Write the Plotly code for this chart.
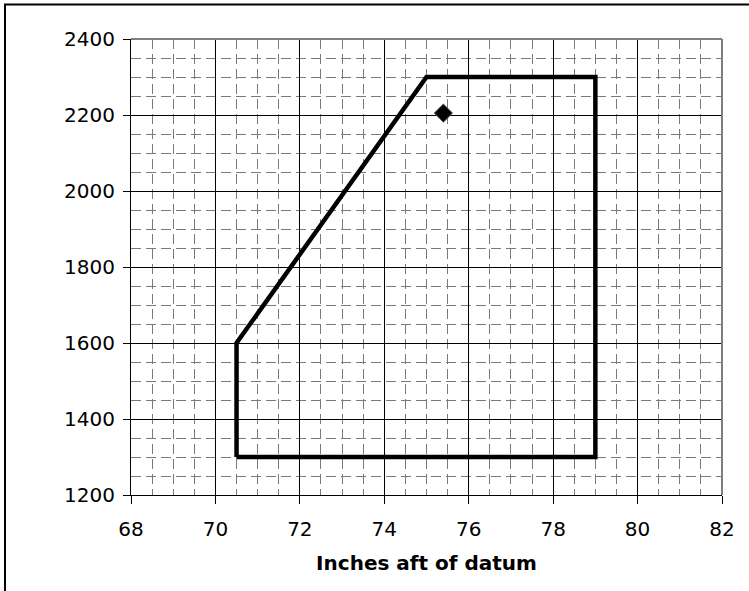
import plotly.graph_objects as go

# Envelope (CG limits) polygon
env_x = [70.5, 70.5, 75.0, 79.0, 79.0, 70.5]
env_y = [1300, 1600, 2300, 2300, 1300, 1300]

# Loaded aircraft point
pt_x = [75.4]
pt_y = [2205]

x_range = [68, 82]
y_range = [1200, 2400]
x_title = "Inches aft of datum"

FONT = "DejaVu Sans, Verdana, sans-serif"

fig = go.Figure()
fig.add_trace(go.Scatter(
    x=env_x, y=env_y, mode="lines",
    line=dict(color="black", width=4.5),
    hoverinfo="skip", showlegend=False,
))
fig.add_trace(go.Scatter(
    x=pt_x, y=pt_y, mode="markers",
    marker=dict(symbol="diamond", size=14, color="black",
                line=dict(color="#555555", width=1)),
    showlegend=False,
))

fig.update_xaxes(
    range=x_range, dtick=2, tick0=68,
    showgrid=True, gridcolor="black", gridwidth=1,
    minor=dict(dtick=0.5, showgrid=True, gridcolor="#7a7a7a",
               griddash="10px,5px", gridwidth=1),
    ticks="outside", ticklen=8, tickcolor="black", tickwidth=1,
    showline=True, linecolor="black", linewidth=1,
    zeroline=False,
    tickfont=dict(family=FONT, size=20, color="black"),
    ticklabelstandoff=8,
    title=dict(text="<b>" + x_title + "</b>",
               font=dict(family=FONT, size=20, color="black"),
               standoff=15),
)
fig.update_yaxes(
    range=y_range, dtick=200, tick0=1200,
    showgrid=True, gridcolor="black", gridwidth=1,
    minor=dict(dtick=50, showgrid=True, gridcolor="#7a7a7a",
               griddash="10px,5px", gridwidth=1),
    ticks="outside", ticklen=7, tickcolor="black", tickwidth=1,
    showline=True, linecolor="black", linewidth=1,
    zeroline=False,
    tickfont=dict(family=FONT, size=20, color="black"),
    ticklabelstandoff=4,
)

L, R, T, B = 131, 27, 39, 96
W, H = 749, 591
pw, ph = W - L - R, H - T - B

def px_x(p):
    return (p - L) / pw

def px_y(p):
    return (T + ph - p) / ph

shapes = [
    # gray top & right border of plot area
    dict(type="line", xref="paper", yref="paper", x0=0, x1=1, y0=1, y1=1,
         line=dict(color="#7f7f7f", width=2)),
    dict(type="line", xref="paper", yref="paper", x0=1, x1=1, y0=0, y1=1,
         line=dict(color="#7f7f7f", width=2)),
    # outer chart border
    dict(type="rect", xref="paper", yref="paper",
         x0=px_x(5), x1=px_x(760), y0=px_y(600), y1=px_y(4.5),
         line=dict(color="black", width=2), fillcolor="rgba(0,0,0,0)",
         layer="above"),
]

fig.update_layout(
    width=W, height=H,
    margin=dict(l=L, r=R, t=T, b=B),
    plot_bgcolor="white", paper_bgcolor="white",
    font=dict(family=FONT, color="black"),
    shapes=shapes,
    showlegend=False,
)

fig.write_html("out.html",
               config={"displayModeBar": False},
               post_script="document.body.style.margin='0px';document.body.style.overflow='hidden';")
